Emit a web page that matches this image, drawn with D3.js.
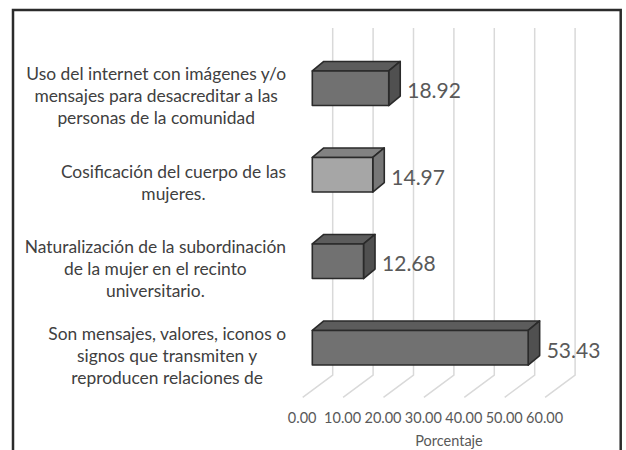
<!DOCTYPE html>
<html>
<head>
<meta charset="utf-8">
<script src="https://cdn.jsdelivr.net/npm/d3@7"></script>
<style>
  body { margin: 0; background: #fff; }
  svg { display: block; font-family: Lato, "Open Sans", sans-serif; }
</style>
</head>
<body>
<div id="chart"></div>
<script>
// data (top to bottom)
const categories = [
  "Uso del internet con imágenes y/o mensajes para desacreditar a las personas de la comunidad",
  "Cosificación del cuerpo de las mujeres.",
  "Naturalización de la subordinación de la mujer en el recinto universitario.",
  "Son mensajes, valores, iconos o signos que transmiten y reproducen relaciones de"
];
const labelLines = [
  ["Uso del internet con imágenes y/o", "mensajes para desacreditar a las", "personas de la comunidad"],
  ["Cosificación del cuerpo de las", "mujeres."],
  ["Naturalización de la subordinación", "de la mujer en el recinto", "universitario."],
  ["Son mensajes, valores, iconos o", "signos que transmiten y", "reproducen relaciones de"]
];
const values = [18.92, 14.97, 12.68, 53.43];
const shades = ["dark", "light", "dark", "dark"];
const tickValues = [0, 10, 20, 30, 40, 50, 60];
const axisTitle = "Porcentaje";

const width = 626, height = 450;

const palette = {
  dark: { front: "#717171", top: "#5c5c5c", side: "#505050" },
  light: { front: "#a6a6a6", top: "#828282", side: "#777777" }
};

const svg = d3.select("#chart").append("svg")
  .attr("width", width)
  .attr("height", height);

// x is the back wall scale, the bars and the floor are shifted from it
const x = d3.scaleLinear().domain([0, 60]).range([332.7, 575.1]);
const y = d3.scaleBand().domain(categories).range([45, 391]).padding(0);

const wallTop = 28, wallBottom = 375;
const floor = { dx: -30, dy: 22.3 };   // back wall -> front edge of floor
const barShift = -20.4;                 // back wall -> bar front face
const barDepth = { dx: 11.5, dy: -9.5 };
const barH = y.bandwidth() * 0.4;

// frame
svg.append("rect")
  .attr("x", 13).attr("y", 10)
  .attr("width", 607.7).attr("height", 460)
  .attr("fill", "none")
  .attr("stroke", "#2b2b2b")
  .attr("stroke-width", 2.5);

// gridlines on the wall and the floor
const grid = svg.append("g").attr("stroke", "#d9d9d9").attr("stroke-width", 1.5).attr("fill", "none");
tickValues.forEach(t => {
  grid.append("path")
    .attr("d", `M${x(t)},${wallTop}V${wallBottom}l${floor.dx},${floor.dy}`);
});

// bars
const bars = svg.selectAll(".bar")
  .data(values)
  .enter()
  .append("g")
  .attr("class", "bar")
  .attr("stroke", "#2a2a2a")
  .attr("stroke-width", 1.6)
  .attr("stroke-linejoin", "round");

bars.each(function(v, i) {
  const g = d3.select(this);
  const c = palette[shades[i]];
  const x0 = x(0) + barShift, x1 = x(v) + barShift;
  const yc = y(categories[i]) + y.bandwidth() / 2;
  const y0 = yc - barH / 2, y1 = yc + barH / 2;
  const dx = barDepth.dx, dy = barDepth.dy;

  g.append("polygon")
    .attr("points", [[x0, y0], [x0 + dx, y0 + dy], [x1 + dx, y0 + dy], [x1, y0]].join(" "))
    .attr("fill", c.top);
  g.append("polygon")
    .attr("points", [[x1, y0], [x1 + dx, y0 + dy], [x1 + dx, y1 + dy], [x1, y1]].join(" "))
    .attr("fill", c.side);
  g.append("rect")
    .attr("x", x0).attr("y", y0)
    .attr("width", x1 - x0).attr("height", barH)
    .attr("fill", c.front);
});

// value labels
svg.selectAll(".val")
  .data(values)
  .enter()
  .append("text")
  .attr("class", "val")
  .attr("x", d => x(d) + barShift + barDepth.dx + 7)
  .attr("y", (d, i) => y(categories[i]) + y.bandwidth() / 2 + 10)
  .attr("font-size", "21px")
  .attr("fill", "#595959")
  .text(d => d.toFixed(2));

// category labels, block right aligned, lines centred
const labelRight = 286, lineH = 22;
labelLines.forEach((lines, i) => {
  const g = svg.append("g");
  const yc = y(categories[i]) + y.bandwidth() / 2 + 14;
  const texts = lines.map((s, j) => g.append("text")
    .attr("y", yc + (j - (lines.length - 1) / 2) * lineH)
    .attr("text-anchor", "middle")
    .attr("font-size", "17.4px")
    .attr("fill", "#404040")
    .text(s));
  const maxW = d3.max(texts, t => t.node().getComputedTextLength());
  texts.forEach(t => t.attr("x", labelRight - maxW / 2));
});

// tick labels along the front edge of the floor
svg.selectAll(".tick")
  .data(tickValues)
  .enter()
  .append("text")
  .attr("class", "tick")
  .attr("x", d => x(d) + floor.dx - 0.5)
  .attr("y", 423)
  .attr("text-anchor", "middle")
  .attr("font-size", "14.5px")
  .attr("fill", "#595959")
  .text(d => d.toFixed(2));

svg.append("text")
  .attr("x", 449)
  .attr("y", 446)
  .attr("text-anchor", "middle")
  .attr("font-size", "14.5px")
  .attr("fill", "#595959")
  .text(axisTitle);
</script>
</body>
</html>
